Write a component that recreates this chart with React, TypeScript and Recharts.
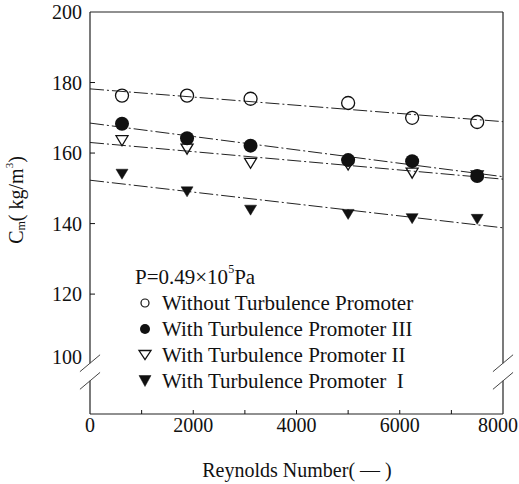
import { ComposedChart, Line, Scatter, XAxis, YAxis, ReferenceLine } from 'recharts'

// Reynolds numbers of the measurements
const reynolds = [620, 1880, 3110, 5000, 6240, 7500]

// Cm (kg/m3) for each membrane setup
const withoutPromoter = [176.3, 176.3, 175.4, 174.2, 170.0, 168.8]
const promoterIII = [168.3, 164.2, 162.1, 158.0, 157.7, 153.5]
const promoterII = [163.5, 161.1, 157.1, 156.6, 154.3, 153.5]
const promoterI = [154.0, 149.0, 143.8, 142.6, 141.4, 141.2]

// fitted lines, value at each end of the Re range
const fitRange = [0, 8000]
const fitWithout = [178.2, 168.9]
const fitIII = [168.5, 153.3]
const fitII = [163.0, 152.6]
const fitI = [152.3, 138.8]

const xTicks = [0, 1000, 2000, 3000, 4000, 5000, 6000, 7000, 8000]
const topTicks = [2000, 4000, 6000]
const yTicks = [100, 120, 140, 160, 180, 200]
const rightTicks = [120, 140, 160, 180]

// axis break sits between these two values
const breakLow = 95.4
const breakHigh = 100.4

const legendTitle = 'P=0.49×10'
const legendLabels = [
  'Without Turbulence Promoter',
  'With Turbulence Promoter III',
  'With Turbulence Promoter II',
  'With Turbulence Promoter \u00a0I',
]

const serif = { fontFamily: '"Liberation Serif"' }
const INK = '#111'

const toPoints = (ys: number[]) => reynolds.map((re, i) => ({ re, c: ys[i] }))
const toFit = (ys: number[]) => fitRange.map((re, i) => ({ re, c: ys[i] }))

const openCircle = (p: any) => <circle cx={p.cx} cy={p.cy} r={6.5} fill="none" stroke={INK} strokeWidth={1.3} />
const filledCircle = (p: any) => <circle cx={p.cx} cy={p.cy} r={7} fill={INK} />
const downTri = (filled: boolean, w = 12, h = 10) => (p: any) => (
  <path
    d={`M${p.cx - w / 2},${p.cy - h / 2}L${p.cx + w / 2},${p.cy - h / 2}L${p.cx},${p.cy + h / 2}Z`}
    fill={filled ? INK : 'none'}
    stroke={INK}
    strokeWidth={filled ? 0.5 : 1.3}
  />
)

function LeftTick({ x, y, payload }: any) {
  const v = payload.value
  return (
    <g>
      {v > 100 && v < 200 && <line x1={x + 8} x2={x + 13} y1={y} y2={y} stroke={INK} />}
      <text x={x} y={v === 100 ? y - 8 : y} dy="0.35em" textAnchor="end" style={serif} fontSize={20} fill={INK}>
        {v}
      </text>
    </g>
  )
}

function BottomTick({ x, y, payload }: any) {
  const v = payload.value
  // the last label is pulled in so it stays on the page
  const tx = v === 8000 ? x - 5 : x
  return (
    <g>
      {v > 0 && v < 8000 && <line x1={x} x2={x} y1={y - 4} y2={y - 8} stroke={INK} />}
      {v % 2000 === 0 && (
        <text x={tx} y={y} dy="0.71em" textAnchor="middle" style={serif} fontSize={20} fill={INK}>
          {v}
        </text>
      )}
    </g>
  )
}

const TopTick = ({ x, y }: any) => <line x1={x} x2={x} y1={y} y2={y + 6} stroke={INK} />
const RightTick = ({ x, y }: any) => <line x1={x} x2={x - 6} y1={y} y2={y} stroke={INK} />

const fitDash = '14 3 2 3'

function LegendMarker({ i, cx, cy }: { i: number; cx: number; cy: number }) {
  if (i === 0) return <circle cx={cx} cy={cy} r={4} fill="none" stroke={INK} strokeWidth={1.2} />
  if (i === 1) return <circle cx={cx} cy={cy} r={5} fill={INK} />
  return downTri(i === 3, 12, i === 3 ? 11 : 9)({ cx, cy })
}

export default function App() {
  const frame = { stroke: '#222', strokeWidth: 1.2, ifOverflow: 'visible' as const }
  return (
    <div style={{ position: 'absolute', left: 0, top: 0, width: 519, height: 484, background: '#fff' }}>
      <ComposedChart width={519} height={484} margin={{ top: 11, right: 15, bottom: 30, left: 30 }}>
        <XAxis
          dataKey="re"
          type="number"
          domain={[0, 8000]}
          ticks={xTicks}
          interval={0}
          height={40}
          tickSize={0}
          tickMargin={4}
          tickLine={false}
          axisLine={{ stroke: '#222', strokeWidth: 1.2 }}
          tick={<BottomTick />}
        />
        <XAxis
          xAxisId="top"
          dataKey="re"
          type="number"
          orientation="top"
          domain={[0, 8000]}
          ticks={topTicks}
          interval={0}
          height={1}
          tickSize={0}
          tickMargin={0}
          tickLine={false}
          axisLine={{ stroke: '#222', strokeWidth: 1.2 }}
          tick={<TopTick />}
        />
        <YAxis
          type="number"
          domain={[86, 200]}
          ticks={yTicks}
          interval={0}
          width={60}
          tickSize={0}
          tickMargin={8}
          tickLine={false}
          axisLine={false}
          tick={<LeftTick />}
        />
        <YAxis
          yAxisId="right"
          orientation="right"
          type="number"
          domain={[86, 200]}
          ticks={rightTicks}
          interval={0}
          width={1}
          tickSize={0}
          tickMargin={0}
          tickLine={false}
          axisLine={false}
          tick={<RightTick />}
        />

        {/* left and right frame, broken below 100 */}
        <ReferenceLine segment={[{ x: 0, y: 86 }, { x: 0, y: breakLow }]} {...frame} />
        <ReferenceLine segment={[{ x: 0, y: breakHigh }, { x: 0, y: 200 }]} {...frame} />
        <ReferenceLine segment={[{ x: 8000, y: 86 }, { x: 8000, y: breakLow }]} {...frame} />
        <ReferenceLine segment={[{ x: 8000, y: breakHigh }, { x: 8000, y: 200 }]} {...frame} />
        {[0, 8000].flatMap((edge) =>
          [breakLow, breakHigh].map((b) => (
            <ReferenceLine
              key={`${edge}-${b}`}
              segment={[{ x: edge - 195, y: b - 2.4 }, { x: edge + 195, y: b + 2.4 }]}
              stroke="#444"
              strokeWidth={1}
              ifOverflow="visible"
            />
          )),
        )}

        <Line data={toFit(fitWithout)} dataKey="c" stroke="#222" strokeWidth={1} strokeDasharray={fitDash} dot={false} isAnimationActive={false} />
        <Line data={toFit(fitIII)} dataKey="c" stroke="#222" strokeWidth={1} strokeDasharray={fitDash} dot={false} isAnimationActive={false} />
        <Line data={toFit(fitII)} dataKey="c" stroke="#222" strokeWidth={1} strokeDasharray={fitDash} dot={false} isAnimationActive={false} />
        <Line data={toFit(fitI)} dataKey="c" stroke="#222" strokeWidth={1} strokeDasharray={fitDash} dot={false} isAnimationActive={false} />

        <Scatter data={toPoints(withoutPromoter)} dataKey="c" shape={openCircle} isAnimationActive={false} />
        <Scatter data={toPoints(promoterII)} dataKey="c" shape={downTri(false)} isAnimationActive={false} />
        <Scatter data={toPoints(promoterIII)} dataKey="c" shape={filledCircle} isAnimationActive={false} />
        <Scatter data={toPoints(promoterI)} dataKey="c" shape={downTri(true)} isAnimationActive={false} />
      </ComposedChart>

      <svg width={519} height={484} style={{ position: 'absolute', left: 0, top: 0, pointerEvents: 'none' }}>
        <text
          transform="translate(16,200) rotate(-90)"
          textAnchor="middle"
          dominantBaseline="central"
          style={serif}
          fontSize={20}
          fill={INK}
        >
          C<tspan fontSize={12} dy={5}>m</tspan>
          <tspan dy={-5}>( kg/m</tspan>
          <tspan fontSize={11} dy={-7}>3</tspan>
          <tspan dy={7}>)</tspan>
        </text>
        <text x={297} y={470} textAnchor="middle" dominantBaseline="central" style={serif} fontSize={20} fill={INK}>
          Reynolds Number( — )
        </text>

        <text x={135} y={277} dominantBaseline="central" style={serif} fontSize={21} fill={INK}>
          {legendTitle}
          <tspan fontSize={12} dy={-8}>5</tspan>
          <tspan dy={8}>Pa</tspan>
        </text>
        {legendLabels.map((label, i) => (
          <g key={label}>
            <LegendMarker i={i} cx={145} cy={303 + 26 * i} />
            <text x={162} y={303 + 26 * i} dominantBaseline="central" style={serif} fontSize={21} fill={INK}>
              {label}
            </text>
          </g>
        ))}
      </svg>
    </div>
  )
}
